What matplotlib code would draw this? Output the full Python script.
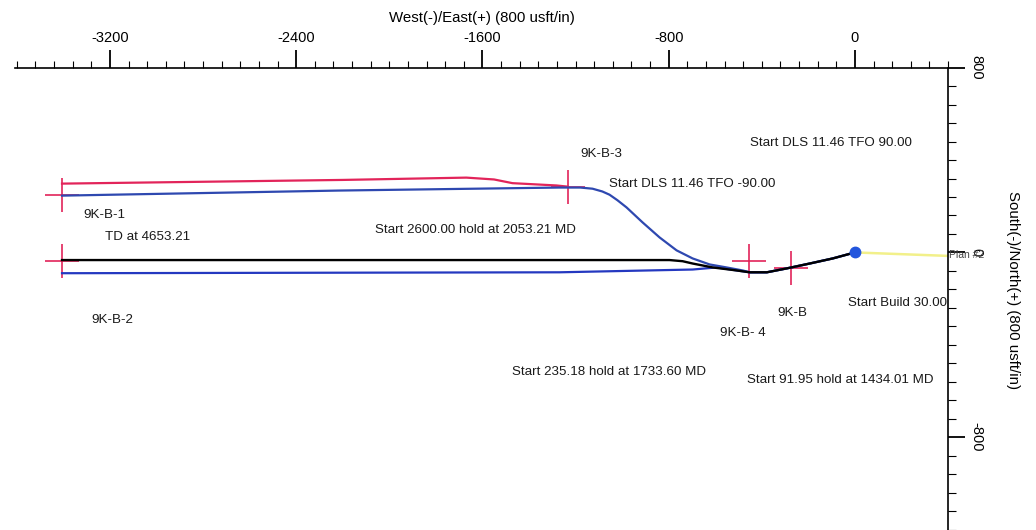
import matplotlib
matplotlib.use('Agg')
import matplotlib.pyplot as plt
from matplotlib.ticker import MultipleLocator, FixedLocator

plt.rcParams['font.family'] = ['Liberation Sans', 'DejaVu Sans']
plt.rcParams['axes.unicode_minus'] = False

# ---- data (usft) ----
# 9K-B-1 lateral (upper blue)
b1_ew = [-3406, -2215, -1269, -1180, -1127, -1085, -1054, -1020, -981, -912, -839,
         -766, -697, -624, -551, -482, -452, -378, -292, -194, -95, 0]
b1_ns = [246, 268, 281, 281, 276, 264, 250, 226, 195, 130, 65,
         9, -26, -52, -65, -78, -86, -86, -69, -48, -26, 0]
# previous plan (red)
red_ew = [-3406, -2200, -1669, -1550, -1471, -1282, -1234]
red_ns = [298, 314, 324, 316, 300, 290, 285]
# 9K-B-2 lateral (black, Plan #2)
blk_ew = [-3406, -796, -740, -697, -611, -508, -452, -378, -292, -194, -95, 0]
blk_ns = [-33, -33, -38, -48, -65, -78, -86, -86, -69, -48, -26, 0]
# lower blue lateral
b2_ew = [-3406, -1269, -697, -594, -508, -452, -378, -292, -194, -95, 0]
b2_ns = [-90, -86, -74, -65, -78, -86, -86, -69, -48, -26, 0]
# yellow offset line
yel_ew = [0, 400]
yel_ns = [0, -15]
# surface location
surf_ew = [0]
surf_ns = [0]
# targets
tgt_names = ['9K-B-1', '9K-B-2', '9K-B-3', '9K-B-4', '9K-B']
tgt_ew = [-3406, -3406, -1234, -456, -275]
tgt_ns = [249, -39, 285, -35, -69]

x_ticks = [-3200, -2400, -1600, -800, 0]
y_ticks = [800, 0, -800]

fig = plt.figure(figsize=(10.36, 5.30), dpi=100)
ax = fig.add_axes([15/1036, 0, 933/1036, 462.3/530])
ax.set_xlim(-3608, 400)
ax.set_ylim(-1202, 800)

red = '#e2245a'
blue = '#2438c0'

ax.plot(tgt_ew, tgt_ns, linestyle='none', marker='+', markersize=25,
        markeredgewidth=1.2, color=red, zorder=1)
ax.plot(yel_ew, yel_ns, color='#f2f08a', lw=1.8, zorder=2)
ax.plot(red_ew, red_ns, color=red, lw=1.6, zorder=3)
ax.plot(b2_ew, b2_ns, color=blue, lw=1.6, zorder=3)
ax.plot(b1_ew, b1_ns, color='#2e48b0', lw=1.6, zorder=4)
ax.plot(blk_ew, blk_ns, color='black', lw=1.7, zorder=5)
ax.plot(surf_ew, surf_ns, linestyle='none', marker='o', markersize=7.5,
        color='#2255dd', zorder=6)

fs = 9.6
notes = [
    ('9K-B-1', -3316, 160),
    ('TD at 4653.21', -3222, 65),
    ('9K-B-2', -3282, -294),
    ('9K-B-3', -1181, 428),
    ('Start DLS 11.46 TFO -90.00', -1057, 298),
    ('Start 2600.00 hold at 2053.21 MD', -2062, 95),
    ('Start DLS 11.46 TFO 90.00', -451, 476),
    ('9K-B', -331, -264),
    ('9K-B- 4', -580, -350),
    ('Start Build 30.00', -30, -221),
    ('Start 235.18 hold at 1733.60 MD', -1473, -519),
    ('Start 91.95 hold at 1434.01 MD', -464, -554),
]
for t, x, y in notes:
    ax.text(x, y, t, fontsize=fs, ha='left', va='center', color='#1a1a1a')
ax.text(405, -12, 'Plan #2', fontsize=7.5, ha='left', va='center',
        color='#444444', clip_on=False)

for s in ['left', 'bottom']:
    ax.spines[s].set_visible(False)
for s in ['top', 'right']:
    ax.spines[s].set_linewidth(1.2)

ax.xaxis.tick_top()
ax.xaxis.set_label_position('top')
ax.xaxis.set_major_locator(FixedLocator(x_ticks))
ax.xaxis.set_minor_locator(MultipleLocator(80))
ax.tick_params(axis='x', which='major', direction='out', length=13, width=1.3,
               pad=3, labelsize=10.5)
ax.tick_params(axis='x', which='minor', direction='out', length=5, width=0.8)
ax.set_xlabel('West(-)/East(+) (800 usft/in)', fontsize=10.8, labelpad=7)

ax.yaxis.tick_right()
ax.yaxis.set_label_position('right')
ax.yaxis.set_major_locator(FixedLocator(y_ticks))
ax.yaxis.set_minor_locator(MultipleLocator(80))
ax.tick_params(axis='y', which='major', direction='out', length=12, width=1.3,
               pad=3.5, labelsize=10.5, labelrotation=-90)
ax.tick_params(axis='y', which='minor', direction='out', length=5.5, width=0.8)
for lab in ax.get_yticklabels():
    lab.set_va('center')
ax.set_ylabel('South(-)/North(+) (800 usft/in)', fontsize=10.8, rotation=-90,
              ha='center', va='center')
ax.yaxis.set_label_coords(1.0697, 0.519)

fig.savefig('out.png', dpi=100)
